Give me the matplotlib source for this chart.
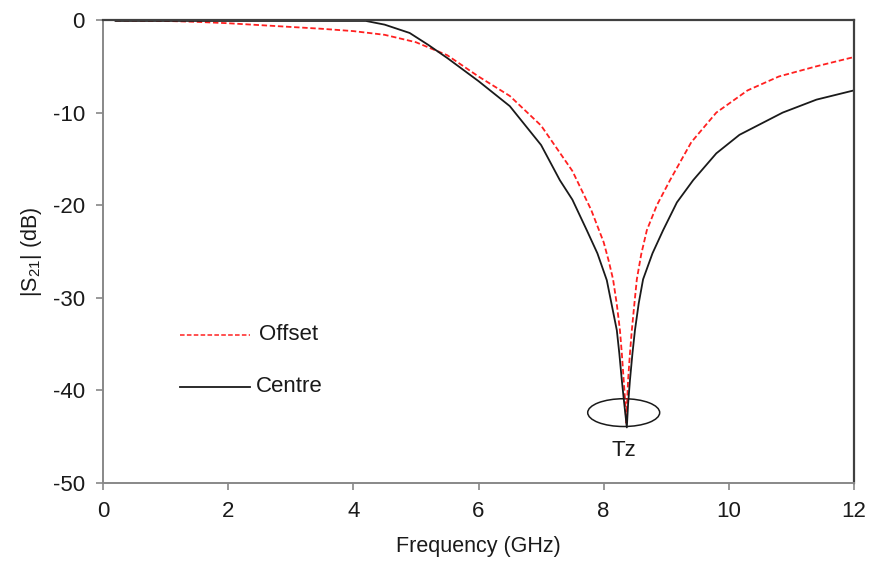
import numpy as np
import matplotlib.pyplot as plt
from matplotlib.patches import Ellipse

plt.rcParams['font.family'] = ['Liberation Sans', 'DejaVu Sans']
plt.rcParams['mathtext.default'] = 'regular'
plt.rcParams['axes.unicode_minus'] = False

# offset feed (red dashed)
f_offset = [0.2, 1.0, 1.5, 2.0, 2.5, 3.0, 3.5, 4.0, 4.5, 5.0, 5.5, 6.0, 6.5,
            7.0, 7.5, 7.8, 8.0, 8.08, 8.15, 8.21, 8.26, 8.29, 8.32, 8.345, 8.36,
            8.375, 8.39, 8.42, 8.45, 8.49, 8.53, 8.6, 8.69, 8.85,
            9.06, 9.4, 9.8, 10.3, 10.8, 11.4, 12.0]
s21_offset = [-0.05, -0.1, -0.2, -0.35, -0.55, -0.75, -0.95, -1.2, -1.6, -2.4,
              -3.8, -6.1, -8.2, -11.4, -16.3, -20.5, -24.0, -26.0, -28.0, -30.7,
              -33.5, -36.0, -38.9, -41.3, -43.5, -41.3, -38.9, -36.0, -33.5, -30.7,
              -28.0, -25.3, -22.7, -20.0, -17.3, -13.2, -10.0, -7.6, -6.1, -5.0, -4.0]

# centre feed (black solid)
f_centre = [0.2, 1.0, 2.0, 3.0, 4.0, 4.2, 4.5, 4.9, 5.2, 5.5, 6.0, 6.5, 7.0, 7.3,
            7.5, 7.73, 7.9, 8.05, 8.13, 8.21, 8.25, 8.29, 8.33, 8.37, 8.39, 8.42,
            8.46, 8.5, 8.56, 8.63, 8.78, 8.95, 9.17, 9.43,
            9.8, 10.17, 10.86, 11.4, 12.0]
s21_centre = [-0.1, -0.1, -0.1, -0.1, -0.1, -0.1, -0.5, -1.4, -2.7, -4.1, -6.6,
              -9.3, -13.5, -17.3, -19.4, -22.7, -25.2, -28.1, -30.8, -33.5, -36.0,
              -38.9, -41.5, -44.0, -41.5, -38.9, -36.0, -33.5, -30.6, -28.0, -25.2,
              -22.7, -19.7, -17.3, -14.4, -12.4, -10.0, -8.6, -7.6]

fig = plt.figure(figsize=(8.72, 5.77), dpi=100)
ax = fig.add_axes([103/872, 1 - 483/577, 751/872, 463/577])

ax.plot(f_offset, s21_offset, color='#ff2020', linestyle=(0, (3, 1.5)), linewidth=1.3)
ax.plot(f_centre, s21_centre, color='#1a1a1a', linewidth=1.3)

# legend drawn by hand like the original
ax.plot([1.23, 2.35], [-34, -34], color='#ff2020', linestyle=(0, (3, 1.5)), linewidth=1.1)
ax.text(2.5, -34, 'Offset', fontsize=16, va='center', color='#1a1a1a')
ax.plot([1.23, 2.35], [-39.6, -39.6], color='#1a1a1a', linewidth=1.3)
ax.text(2.45, -39.6, 'Centre', fontsize=16, va='center', color='#1a1a1a')

# transmission zero marker
ax.add_patch(Ellipse((8.32, -42.4), 1.15, 3.0, fill=False, edgecolor='#1a1a1a', linewidth=1.1))
ax.text(8.33, -46.5, 'Tz', fontsize=16, ha='center', va='center', color='#1a1a1a')

ax.set_xlim(0, 12)
ax.set_ylim(-50, 0)
ax.set_xticks(range(0, 13, 2))
ax.set_yticks(range(-50, 1, 10))
ax.tick_params(direction='out', length=5, width=1.2, colors='#888888',
               labelcolor='#1a1a1a', labelsize=16, pad=8)

for s in ['left', 'bottom']:
    ax.spines[s].set_color('#888888')
    ax.spines[s].set_linewidth(1.4)
for s in ['top', 'right']:
    ax.spines[s].set_color('#404040')
    ax.spines[s].set_linewidth(1.6)

ax.set_xlabel('Frequency (GHz)', fontsize=15.5, color='#1a1a1a', labelpad=10)
ax.set_ylabel('|S$_{21}$| (dB)', fontsize=15.5, color='#1a1a1a', labelpad=6)

plt.savefig('out.png', dpi=100)
plt.close()
